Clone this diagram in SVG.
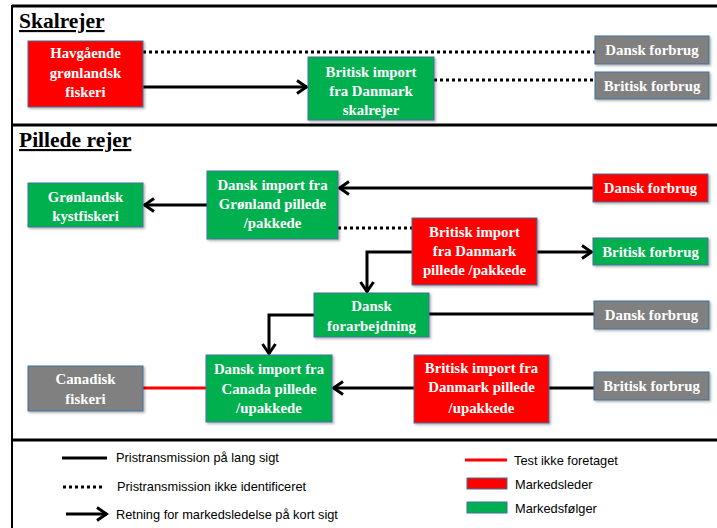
<svg xmlns="http://www.w3.org/2000/svg" width="717" height="528" viewBox="0 0 717 528">
<defs>
<marker id="ah" markerUnits="userSpaceOnUse" markerWidth="14" markerHeight="16" viewBox="0 0 14 16" refX="12" refY="8" orient="auto">
<path d="M2,1.5 L11.5,8 L2,14.5" fill="none" stroke="#000" stroke-width="3"/>
</marker>
<filter id="sh" x="-10%" y="-10%" width="130%" height="130%">
<feDropShadow dx="1.5" dy="1.5" stdDeviation="1" flood-color="#000" flood-opacity="0.3"/>
</filter>
<style>
.box{stroke:#41719C;stroke-width:1;filter:url(#sh)}
.red{fill:#FF0000}
.green{fill:#00B050}
.gray{fill:#808080}
.bt{font-family:"Liberation Serif",serif;font-weight:bold;font-size:14.8px;fill:#fff;text-anchor:middle}
.title{font-family:"Liberation Serif",serif;font-weight:bold;font-size:21.5px;fill:#000;text-decoration:underline}
.solid{stroke:#000;stroke-width:3;fill:none}
.dot{stroke:#000;stroke-width:3;fill:none;stroke-dasharray:3 3}
.redl{stroke:#FF0000;stroke-width:3;fill:none}
.frame{stroke:#000;fill:none}
.lg{font-family:"Liberation Sans",Arial,sans-serif;font-size:12.8px;fill:#000}
.lgbox{stroke:#41719C;stroke-width:1}
</style>
</defs>
<rect width="717" height="528" fill="#fff"/>
<g id="frame">
<line class="frame" x1="12" y1="6" x2="717" y2="6" stroke-width="3"/>
<line class="frame" x1="12" y1="5" x2="12" y2="528" stroke-width="2"/>
<line class="frame" x1="12" y1="125" x2="717" y2="125" stroke-width="3"/>
<line class="frame" x1="12" y1="440" x2="717" y2="440" stroke-width="3"/>
</g>
<text class="title" x="19" y="28">Skalrejer</text>
<text class="title" x="19" y="147">Pillede rejer</text>
<g id="connectors">
<line class="dot" x1="143" y1="52" x2="595" y2="52"/>
<line class="solid" x1="143" y1="87" x2="307" y2="87" marker-end="url(#ah)"/>
<line class="dot" x1="434" y1="80" x2="595" y2="80"/>
<line class="solid" x1="593" y1="188" x2="339" y2="188" marker-end="url(#ah)"/>
<line class="solid" x1="207" y1="205" x2="144" y2="205" marker-end="url(#ah)"/>
<line class="dot" x1="338" y1="228" x2="412" y2="228"/>
<line class="solid" x1="537" y1="252" x2="592" y2="252" marker-end="url(#ah)"/>
<polyline class="solid" points="412,252 367,252 367,292" marker-end="url(#ah)"/>
<line class="solid" x1="429" y1="314" x2="594" y2="314"/>
<polyline class="solid" points="314,315 269,315 269,354" marker-end="url(#ah)"/>
<line class="redl" x1="143" y1="388" x2="206" y2="388"/>
<line class="solid" x1="414" y1="388" x2="333" y2="388" marker-end="url(#ah)"/>
<line class="solid" x1="549" y1="388" x2="594" y2="388"/>
</g>
<g id="havgaaende">
<rect class="box red" x="28" y="41" width="115" height="66"/>
<text class="bt" x="85.5" y="58">Havgående</text>
<text class="bt" x="85.5" y="78">grønlandsk</text>
<text class="bt" x="85.5" y="97">fiskeri</text>
</g>
<g id="brit-import-skal">
<rect class="box green" x="308" y="57" width="126" height="63"/>
<text class="bt" x="371" y="77">Britisk import</text>
<text class="bt" x="371" y="96">fra Danmark</text>
<text class="bt" x="371" y="115">skalrejer</text>
</g>
<g id="dansk-forbrug-1">
<rect class="box gray" x="595" y="36" width="114" height="28"/>
<text class="bt" x="652" y="55">Dansk forbrug</text>
</g>
<g id="brit-forbrug-1">
<rect class="box gray" x="595" y="72" width="114" height="27"/>
<text class="bt" x="652" y="90.5">Britisk forbrug</text>
</g>
<g id="gl-kystfiskeri">
<rect class="box green" x="28" y="183" width="115" height="44"/>
<text class="bt" x="85.5" y="202">Grønlandsk</text>
<text class="bt" x="85.5" y="221">kystfiskeri</text>
</g>
<g id="dk-import-gl">
<rect class="box green" x="207" y="171" width="131" height="68"/>
<text class="bt" x="272.5" y="190">Dansk import fra</text>
<text class="bt" x="272.5" y="209">Grønland pillede</text>
<text class="bt" x="272.5" y="228">/pakkede</text>
</g>
<g id="dansk-forbrug-2">
<rect class="box red" x="593" y="174" width="115" height="28"/>
<text class="bt" x="650.5" y="193">Dansk forbrug</text>
</g>
<g id="brit-import-pakkede">
<rect class="box red" x="412" y="218" width="125" height="67"/>
<text class="bt" x="474.5" y="237">Britisk import</text>
<text class="bt" x="474.5" y="256">fra Danmark</text>
<text class="bt" x="474.5" y="275">pillede /pakkede</text>
</g>
<g id="brit-forbrug-2">
<rect class="box green" x="593" y="238" width="115" height="27"/>
<text class="bt" x="650.5" y="256.5">Britisk forbrug</text>
</g>
<g id="dk-forarbejdning">
<rect class="box green" x="314" y="293" width="115" height="44"/>
<text class="bt" x="371.5" y="311">Dansk</text>
<text class="bt" x="371.5" y="331">forarbejdning</text>
</g>
<g id="dansk-forbrug-3">
<rect class="box gray" x="594" y="301" width="115" height="28"/>
<text class="bt" x="651.5" y="320">Dansk forbrug</text>
</g>
<g id="canadisk-fiskeri">
<rect class="box gray" x="28" y="366" width="115" height="45"/>
<text class="bt" x="85.5" y="384">Canadisk</text>
<text class="bt" x="85.5" y="404">fiskeri</text>
</g>
<g id="dk-import-ca">
<rect class="box green" x="206" y="355" width="126" height="67"/>
<text class="bt" x="269" y="374">Dansk import fra</text>
<text class="bt" x="269" y="394">Canada pillede</text>
<text class="bt" x="269" y="413">/upakkede</text>
</g>
<g id="brit-import-upakkede">
<rect class="box red" x="414" y="355" width="135" height="68"/>
<text class="bt" x="481.5" y="373">Britisk import fra</text>
<text class="bt" x="481.5" y="392">Danmark pillede</text>
<text class="bt" x="481.5" y="413">/upakkede</text>
</g>
<g id="brit-forbrug-3">
<rect class="box gray" x="594" y="372" width="115" height="28"/>
<text class="bt" x="651.5" y="391">Britisk forbrug</text>
</g>
<g id="legend">
<line class="solid" x1="62" y1="458" x2="107" y2="458"/>
<text class="lg" x="116" y="462">Pristransmission på lang sigt</text>
<line class="dot" x1="63" y1="487" x2="102" y2="487"/>
<text class="lg" x="117" y="491">Pristransmission ikke identificeret</text>
<line class="solid" x1="66" y1="514" x2="107" y2="514" marker-end="url(#ah)"/>
<text class="lg" x="116" y="519">Retning for markedsledelse på kort sigt</text>
<line class="redl" x1="465" y1="460" x2="507" y2="460"/>
<text class="lg" x="514" y="465">Test ikke foretaget</text>
<rect class="lgbox red" x="467" y="478" width="40" height="11"/>
<text class="lg" x="515" y="489">Markedsleder</text>
<rect class="lgbox green" x="467" y="502" width="40" height="11"/>
<text class="lg" x="515" y="513">Markedsfølger</text>
</g>
</svg>
